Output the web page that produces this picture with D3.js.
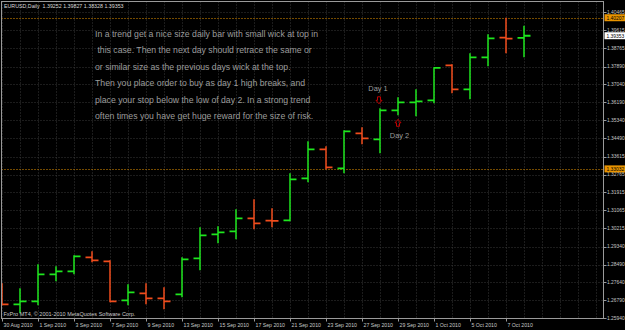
<!DOCTYPE html>
<html>
<head>
<meta charset="utf-8">
<script src="https://cdn.jsdelivr.net/npm/d3@7"></script>
<style>
  html, body { margin: 0; padding: 0; background: #000; }
  svg { display: block; }
</style>
</head>
<body>
<script>
// daily bars, EURUSD
const dates = ['30 Aug 2010', '31 Aug 2010', '1 Sep 2010', '2 Sep 2010', '3 Sep 2010', '6 Sep 2010',
    '7 Sep 2010', '8 Sep 2010', '9 Sep 2010', '10 Sep 2010', '13 Sep 2010', '14 Sep 2010',
    '15 Sep 2010', '16 Sep 2010', '17 Sep 2010', '20 Sep 2010', '21 Sep 2010', '22 Sep 2010',
    '23 Sep 2010', '24 Sep 2010', '27 Sep 2010', '28 Sep 2010', '29 Sep 2010', '30 Sep 2010',
    '1 Oct 2010', '4 Oct 2010', '5 Oct 2010', '6 Oct 2010', '7 Oct 2010', '8 Oct 2010'];
const opens = [1.27506, 1.26605, 1.26747, 1.28029, 1.28171, 1.28836, 1.28646, 1.26794, 1.27127, 1.26889,
    1.27079, 1.28788, 1.29927, 1.30070, 1.30687, 1.30580, 1.30592, 1.32585, 1.33962, 1.33060,
    1.34721, 1.34437, 1.35813, 1.36193, 1.36288, 1.37949, 1.36810, 1.38329, 1.39262, 1.39252];
const highs = [1.27601, 1.27364, 1.28503, 1.28408, 1.28930, 1.29120, 1.28693, 1.27554, 1.27601, 1.27412,
    1.28836, 1.30260, 1.30307, 1.31114, 1.31589, 1.31161, 1.32823, 1.34342, 1.34104, 1.34864,
    1.35006, 1.35908, 1.36430, 1.36810, 1.37854, 1.37997, 1.38519, 1.39421, 1.40207, 1.39827];
const lows = [1.26557, 1.26177, 1.26557, 1.27696, 1.28029, 1.28598, 1.26700, 1.26557, 1.26605, 1.26367,
    1.26937, 1.28218, 1.29500, 1.29690, 1.30165, 1.30260, 1.30544, 1.32396, 1.33013, 1.32823,
    1.34199, 1.33772, 1.35576, 1.35528, 1.36145, 1.36620, 1.36335, 1.37902, 1.38519, 1.38328];
const closes = [1.26605, 1.26747, 1.28029, 1.28171, 1.28883, 1.28693, 1.26747, 1.27174, 1.26889, 1.26747,
    1.28741, 1.29880, 1.30022, 1.30687, 1.30449, 1.30560, 1.32538, 1.33962, 1.33108, 1.34816,
    1.34484, 1.35813, 1.36193, 1.36240, 1.37830, 1.36810, 1.38329, 1.39231, 1.39220, 1.39353];

const priceTicks = [1.40465, 1.39615, 1.38765, 1.37890, 1.37040, 1.36190, 1.35340, 1.34490, 1.33615,
    1.32765, 1.31915, 1.31065, 1.30215, 1.29340, 1.28490, 1.27640, 1.26790, 1.25940];
const hLines = [1.40207, 1.33032];   // orange horizontal lines
const lastPrice = 1.39353;

const noteLines = [
    'In a trend get a nice size daily bar with small wick at top in',
    ' this case. Then the next day should retrace the same or',
    'or similar size as the previous days wick at the top.',
    'Then you place order to buy as day 1 high breaks, and',
    'place your stop below the low of day 2. In a strong trend',
    'often times you have get huge reward for the size of risk.'
];
const day1 = 21, day2 = 22;

const W = 625, H = 330;
const plot = { left: 1.5, right: 603.5, top: 1.5, bottom: 318.5 };
const upColor = '#1ee61e', downColor = '#f04c1c', orange = '#e89400';
const fontFam = '"Liberation Sans", Arial, sans-serif';

const svg = d3.select('body').append('svg')
    .attr('width', W)
    .attr('height', H)
    .style('background', '#000');

const x = d3.scaleLinear().domain([0, dates.length - 1]).range([2, 2 + 18 * (dates.length - 1)]);
const y = d3.scaleLinear().domain([1.25940, 1.40465]).range([318.3, 12.3]);

// grid
const nSlots = d3.range(0, Math.floor((plot.right - 2) / 18) + 1);
svg.append('g').selectAll('line')
    .data(nSlots)
    .join('line')
    .attr('x1', d => Math.round(x(d)) + 0.5)
    .attr('x2', d => Math.round(x(d)) + 0.5)
    .attr('y1', plot.top)
    .attr('y2', plot.bottom)
    .attr('stroke', '#383838')
    .attr('stroke-dasharray', '1,2');

svg.append('g').selectAll('line')
    .data(priceTicks)
    .join('line')
    .attr('x1', plot.left)
    .attr('x2', plot.right)
    .attr('y1', d => Math.round(y(d)) + 0.5)
    .attr('y2', d => Math.round(y(d)) + 0.5)
    .attr('stroke', '#383838')
    .attr('stroke-dasharray', '1,2');

// orange lines
svg.append('g').selectAll('line')
    .data(hLines)
    .join('line')
    .attr('x1', plot.left)
    .attr('x2', plot.right)
    .attr('y1', d => Math.round(y(d)) + 0.5)
    .attr('y2', d => Math.round(y(d)) + 0.5)
    .attr('stroke', orange)
    .attr('stroke-dasharray', '1,2');

// note text
svg.append('g').selectAll('text')
    .data(noteLines)
    .join('text')
    .attr('x', 95)
    .attr('y', (d, i) => 36.5 + i * 16.5)
    .attr('fill', '#9c9c9c')
    .style('font-family', fontFam)
    .style('font-size', '8.7px')
    .style('white-space', 'pre')
    .text(d => d);

// bars
const bars = svg.append('g')
    .attr('clip-path', 'url(#plotclip)');
svg.append('clipPath').attr('id', 'plotclip')
    .append('rect')
    .attr('x', plot.left).attr('y', plot.top)
    .attr('width', plot.right - plot.left).attr('height', plot.bottom - plot.top);

const idx = d3.range(dates.length);
const col = i => closes[i] < opens[i] ? downColor : upColor;
const bar = bars.selectAll('g')
    .data(idx)
    .join('g')
    .attr('stroke', col);
bar.append('line')
    .attr('x1', i => x(i)).attr('x2', i => x(i))
    .attr('y1', i => y(highs[i])).attr('y2', i => y(lows[i]))
    .attr('stroke-width', 1.5);
bar.append('line')
    .attr('x1', i => x(i) - 6.5).attr('x2', i => x(i))
    .attr('y1', i => y(opens[i])).attr('y2', i => y(opens[i]))
    .attr('stroke-width', 1.8);
bar.append('line')
    .attr('x1', i => x(i)).attr('x2', i => x(i) + 6.5)
    .attr('y1', i => y(closes[i])).attr('y2', i => y(closes[i]))
    .attr('stroke-width', 1.8);

// day 1 / day 2 marks
const arrowDown = 'M-1.5,-3.5 L1.5,-3.5 L1.5,0 L3,0 L0,3.5 L-3,0 L-1.5,0 Z';
const arrowUp = 'M-1.5,3.5 L1.5,3.5 L1.5,0 L3,0 L0,-3.5 L-3,0 L-1.5,0 Z';
svg.append('path')
    .attr('d', arrowDown)
    .attr('transform', `translate(${x(day1) - 1},${y(highs[day1]) - 8})`)
    .attr('fill', 'none').attr('stroke', '#c00000');
svg.append('path')
    .attr('d', arrowUp)
    .attr('transform', `translate(${x(day2)},${y(lows[day2]) + 7.5})`)
    .attr('fill', 'none').attr('stroke', '#c00000');
svg.append('text')
    .attr('x', x(day1) - 2).attr('y', y(highs[day1]) - 17)
    .attr('text-anchor', 'middle')
    .attr('fill', '#9c9c9c')
    .style('font-family', fontFam).style('font-size', '7.4px')
    .text('Day 1');
svg.append('text')
    .attr('x', x(day2) + 1.5).attr('y', y(lows[day2]) + 23)
    .attr('text-anchor', 'middle')
    .attr('fill', '#9c9c9c')
    .style('font-family', fontFam).style('font-size', '7.4px')
    .text('Day 2');

// frame
svg.append('rect')
    .attr('x', plot.left).attr('y', plot.top)
    .attr('width', plot.right - plot.left).attr('height', plot.bottom - plot.top)
    .attr('fill', 'none').attr('stroke', '#9a9a9a');

// price axis
const yAxis = svg.append('g');
yAxis.selectAll('line')
    .data(priceTicks)
    .join('line')
    .attr('x1', plot.right).attr('x2', plot.right + 3)
    .attr('y1', d => Math.round(y(d)) + 0.5).attr('y2', d => Math.round(y(d)) + 0.5)
    .attr('stroke', '#9a9a9a');
yAxis.selectAll('text')
    .data(priceTicks)
    .join('text')
    .attr('x', plot.right + 3.5)
    .attr('y', d => y(d) + 1.8)
    .attr('fill', '#c8c8c8')
    .style('font-family', fontFam).style('font-size', '4.9px')
    .text(d => d.toFixed(5));

// price labels on the axis
const tags = [
    { v: hLines[0], bg: orange, fg: '#000' },
    { v: lastPrice, bg: '#ffffff', fg: '#000' },
    { v: hLines[1], bg: orange, fg: '#000' }
];
const tag = svg.append('g').selectAll('g')
    .data(tags)
    .join('g')
    .attr('transform', d => `translate(${plot.right + 1},${y(d.v)})`);
tag.append('rect')
    .attr('x', 0).attr('y', -3.5).attr('width', 21).attr('height', 7)
    .attr('fill', d => d.bg);
tag.append('text')
    .attr('x', 2).attr('y', 1.8)
    .attr('fill', d => d.fg)
    .style('font-family', fontFam).style('font-size', '4.9px')
    .text(d => d.v.toFixed(5));

// time axis
const dateIdx = idx.filter(i => i % 2 === 0);
const xAxis = svg.append('g');
xAxis.selectAll('line')
    .data(dateIdx)
    .join('line')
    .attr('x1', i => Math.round(x(i)) + 0.5).attr('x2', i => Math.round(x(i)) + 0.5)
    .attr('y1', plot.bottom).attr('y2', plot.bottom + 3)
    .attr('stroke', '#9a9a9a');
xAxis.selectAll('text')
    .data(dateIdx)
    .join('text')
    .attr('x', i => x(i) + 1.5)
    .attr('y', 327)
    .attr('fill', '#c8c8c8')
    .style('font-family', fontFam).style('font-size', '5.2px')
    .text(i => dates[i]);

// header / footer
svg.append('text')
    .attr('x', 4).attr('y', 8)
    .attr('fill', '#d8d8d8')
    .style('font-family', fontFam).style('font-size', '5.3px')
    .style('white-space', 'pre')
    .text('EURUSD,Daily  1.39252 1.39827 1.38328 1.39353');
svg.append('text')
    .attr('x', 3.5).attr('y', 316)
    .attr('fill', '#c8c8c8')
    .style('font-family', fontFam).style('font-size', '5.5px')
    .text('FxPro MT4, \u00a9 2001-2010 MetaQuotes Software Corp.');
</script>
</body>
</html>
